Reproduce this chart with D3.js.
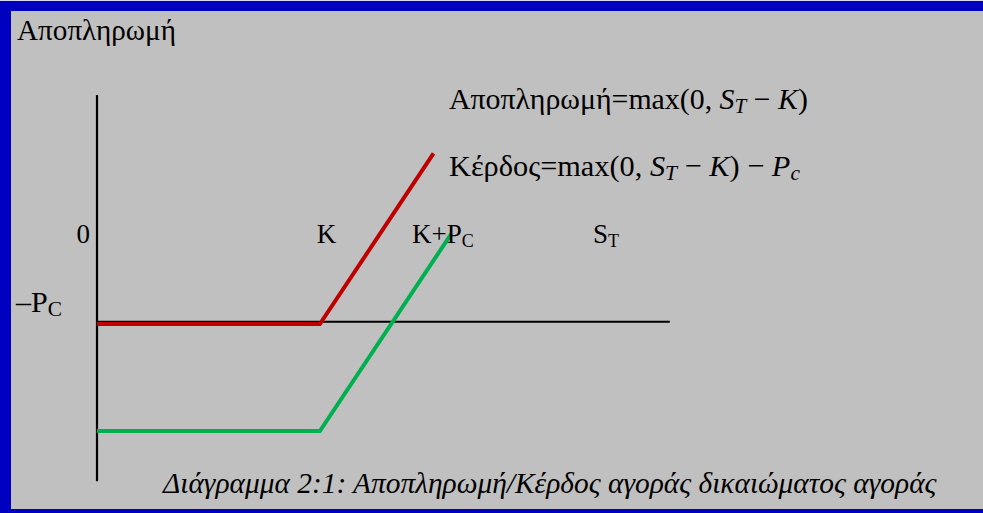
<!DOCTYPE html>
<html>
<head>
<meta charset="utf-8">
<script src="https://cdn.jsdelivr.net/npm/d3@7"></script>
<style>
  html, body { margin: 0; padding: 0; background: #c0c0c0; overflow: hidden; }
  svg { display: block; }
  text { font-family: "Liberation Serif", "Times New Roman", serif; fill: #000; }
</style>
</head>
<body>
<script>
// price at expiry (S_T) and value, K = 100, Pc = 32
var payoffS = [0, 100, 151];
var payoffV = [0, 0, 51];
var profitS = [0, 100, 159];
var profitV = [-32, -32, 27];
var sAxis = [0, 257];        // horizontal axis extent (S_T)
var vAxis = [68.5, -47];     // vertical axis extent (value)
var sLevel = 0.7;            // horizontal axis sits just above the payoff floor

var tickLabels = ['0', 'K', 'K+P', 'S'];

var W = 983, H = 513;
var chart = {};

// shrink/grow font so the text spans the wanted width
function fitWidth(sel, target) {
    var fs = parseFloat(sel.style('font-size'));
    var w = sel.node().getComputedTextLength();
    if (w > 0) sel.style('font-size', (fs * target / w) + 'px');
    sel.selectAll('tspan').each(function() {
        var t = d3.select(this);
        if (this.style.fontSize) t.style('font-size', (parseFloat(this.style.fontSize) * target / w) + 'px');
    });
}

chart.svg = d3.select('body').append('svg')
    .attr('width', W)
    .attr('height', H);

// frame: blue band top / left / bottom, grey page inside
chart.svg.append('rect')
    .attr('x', 0).attr('y', 0).attr('width', W).attr('height', 1)
    .style('fill', '#d8d8f0');
chart.svg.append('rect')
    .attr('x', 0).attr('y', 1).attr('width', W).attr('height', H - 1)
    .style('fill', '#0000c0');
chart.svg.append('rect')
    .attr('x', 11).attr('y', 11).attr('width', W - 11).attr('height', 498)
    .style('fill', '#c0c0c0');

chart.x = d3.scaleLinear().domain([0, 258]).range([97, 672]);
chart.y = d3.scaleLinear().domain([0, -32]).range([324, 431]);

chart.line = d3.line()
    .x(function(d) { return chart.x(d[0]); })
    .y(function(d) { return chart.y(d[1]); });

var g = chart.svg.append('g');

// axes
g.append('path')
    .attr('d', chart.line([[0, vAxis[0]], [0, vAxis[1]]]))
    .style('stroke', '#000').style('stroke-width', '2.2px').style('fill', 'none');
g.append('path')
    .attr('d', chart.line([[sAxis[0], sLevel], [sAxis[1], sLevel]]))
    .style('stroke', '#000').style('stroke-width', '2px').style('fill', 'none');

// payoff & profit
g.append('path')
    .attr('d', chart.line(payoffS.map(function(s, i) { return [s, payoffV[i]]; })))
    .style('stroke', '#c00000').style('stroke-width', '4px').style('fill', 'none');
g.append('path')
    .attr('d', chart.line(profitS.map(function(s, i) { return [s, profitV[i]]; })))
    .style('stroke', '#00b050').style('stroke-width', '4px').style('fill', 'none');

// labels
var lblY = 243;
var title = chart.svg.append('text').attr('x', 17).attr('y', 40)
    .style('font-size', '28px').text('Αποπληρωμή');
fitWidth(title, 159);

chart.svg.append('text').attr('x', chart.x(0) - 7).attr('y', lblY)
    .attr('text-anchor', 'end').style('font-size', '27px').text(tickLabels[0]);
chart.svg.append('text').attr('x', chart.x(100) - 3).attr('y', lblY)
    .style('font-size', '27px').text(tickLabels[1]);
var kp = chart.svg.append('text').attr('x', 412).attr('y', lblY)
    .style('font-size', '27px');
kp.append('tspan').text(tickLabels[2]);
kp.append('tspan').attr('dy', 4).style('font-size', '18px').text('C');
var st = chart.svg.append('text').attr('x', 593).attr('y', lblY)
    .style('font-size', '27px');
st.append('tspan').text(tickLabels[3]);
st.append('tspan').attr('dy', 4).style('font-size', '18px').text('T');

var pc = chart.svg.append('text').attr('x', 16).attr('y', 312)
    .style('font-size', '24px');
pc.append('tspan').text('\u2013P');
pc.append('tspan').attr('dy', 4).style('font-size', '17px').text('C');
fitWidth(pc, 46);

// formulas
var f1 = chart.svg.append('text').attr('x', 449).attr('y', 109)
    .style('font-size', '24px');
f1.append('tspan').text('Αποπληρωμή=max(0, ');
f1.append('tspan').style('font-style', 'italic').text('S');
f1.append('tspan').attr('dy', 4).style('font-style', 'italic').style('font-size', '17px').text('T');
f1.append('tspan').attr('dy', -4).text(' \u2212 ');
f1.append('tspan').style('font-style', 'italic').text('K');
f1.append('tspan').text(')');
fitWidth(f1, 359);

var f2 = chart.svg.append('text').attr('x', 449).attr('y', 176)
    .style('font-size', '24px');
f2.append('tspan').text('Κέρδος=max(0, ');
f2.append('tspan').style('font-style', 'italic').text('S');
f2.append('tspan').attr('dy', 4).style('font-style', 'italic').style('font-size', '17px').text('T');
f2.append('tspan').attr('dy', -4).text(' \u2212 ');
f2.append('tspan').style('font-style', 'italic').text('K');
f2.append('tspan').text(') \u2212 ');
f2.append('tspan').style('font-style', 'italic').text('P');
f2.append('tspan').attr('dy', 4).style('font-style', 'italic').style('font-size', '17px').text('c');
fitWidth(f2, 351);

var cap = chart.svg.append('text').attr('x', 163).attr('y', 493)
    .style('font-size', '27px').style('font-style', 'italic')
    .text('Διάγραμμα 2:1: Αποπληρωμή/Κέρδος αγοράς δικαιώματος αγοράς');
fitWidth(cap, 774);
</script>
</body>
</html>
